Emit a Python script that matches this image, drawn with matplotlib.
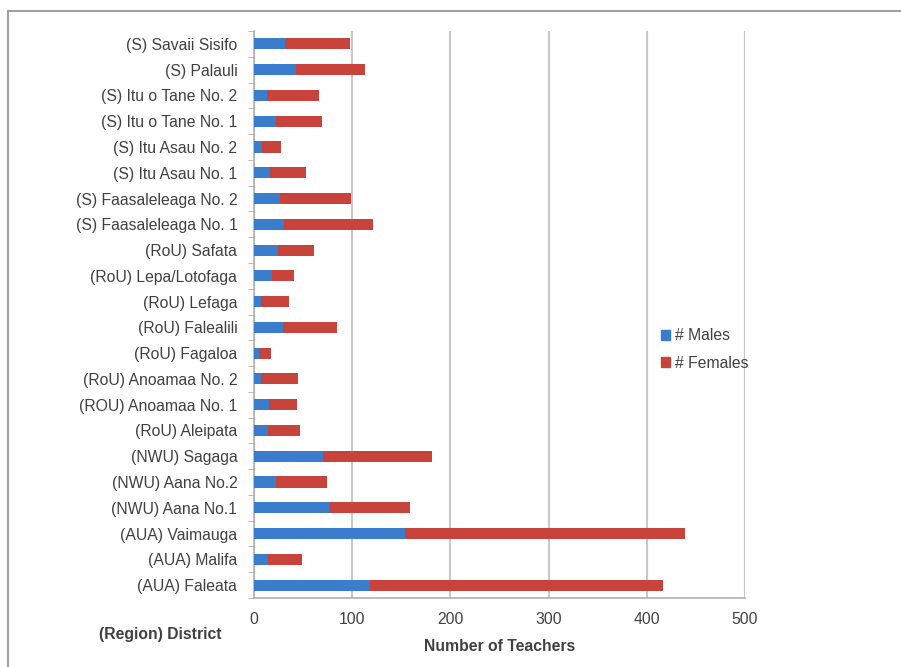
import matplotlib
import numpy as np

matplotlib.use('Agg')
from matplotlib import pyplot as plt
from matplotlib.lines import Line2D
from matplotlib.patches import Patch

# bottom to top, as drawn on the chart
districts = [
    '(AUA) Faleata', '(AUA) Malifa', '(AUA) Vaimauga',
    '(NWU) Aana No.1', '(NWU) Aana No.2', '(NWU) Sagaga',
    '(RoU) Aleipata', '(ROU) Anoamaa No. 1', '(RoU) Anoamaa No. 2',
    '(RoU) Fagaloa', '(RoU) Falealili', '(RoU) Lefaga',
    '(RoU) Lepa/Lotofaga', '(RoU) Safata',
    '(S) Faasaleleaga No. 1', '(S) Faasaleleaga No. 2',
    '(S) Itu Asau No. 1', '(S) Itu Asau No. 2',
    '(S) Itu o Tane No. 1', '(S) Itu o Tane No. 2',
    '(S) Palauli', '(S) Savaii Sisifo',
]
males = [118, 14, 154, 76, 22, 70, 14, 15, 7, 5, 30, 7, 18, 24,
         31, 26, 16, 8, 22, 13, 43, 32]
females = [298, 35, 285, 83, 52, 111, 33, 29, 38, 12, 55, 29, 23, 37,
           90, 73, 37, 19, 47, 53, 70, 66]
x_ticks = [0, 100, 200, 300, 400, 500]

blue = '#3B7DCD'
red = '#C8433B'
text_col = '#404040'
grid_col = '#c8c8c8'
fs = 11.3

plt.rcParams['font.family'] = ['Liberation Sans', 'DejaVu Sans']

fig = plt.figure(figsize=(9.01, 6.67), dpi=100)
ax = fig.add_axes([254 / 901, 1 - 598 / 667, 491 / 901, 567 / 667])

# outer frame (only top and left edges visible)
fig.add_artist(Line2D([8 / 901, 1], [1 - 11 / 667, 1 - 11 / 667],
                      transform=fig.transFigure, color='#a0a0a0', lw=1.5))
fig.add_artist(Line2D([8 / 901, 8 / 901], [0, 1 - 11 / 667],
                      transform=fig.transFigure, color='#a0a0a0', lw=1.5))

y = np.arange(len(districts))
ax.barh(y, males, height=0.43, color=blue, label='# Males', zorder=3)
ax.barh(y, females, left=males, height=0.43, color=red,
        label='# Females', zorder=3)

ax.set_xlim(0, 500)
ax.set_ylim(-0.5, len(districts) - 0.5)
ax.set_xticks(x_ticks)
ax.set_yticks(y)
ax.set_yticklabels(districts)
ax.set_yticks(np.arange(-0.5, len(districts), 1), minor=True)
ax.tick_params(axis='y', which='major', length=0, pad=12,
               labelsize=fs, labelcolor=text_col)
ax.tick_params(axis='y', which='minor', length=4, color='#b0b0b0')
ax.tick_params(axis='x', length=0, pad=10, labelsize=fs,
               labelcolor=text_col)

ax.grid(axis='x', color=grid_col, lw=1.5, zorder=0)
for s in ['top', 'right']:
    ax.spines[s].set_visible(False)
for s in ['left', 'bottom']:
    ax.spines[s].set_color('#b0b0b0')
    ax.spines[s].set_linewidth(1.2)

ax.set_xlabel('Number of Teachers', fontsize=fs, fontweight='bold',
              color=text_col, labelpad=9)
fig.text(160 / 901, 1 - 634 / 667, '(Region) District', fontsize=fs,
         fontweight='bold', color=text_col, ha='center', va='center')

handles = [Patch(color=blue, label='# Males'),
           Patch(color=red, label='# Females')]
ax.legend(handles=handles, loc='center left',
          bbox_to_anchor=(0.80, 0.438), frameon=False, fontsize=fs,
          handlelength=0.6, handleheight=0.6, handletextpad=0.3,
          labelspacing=0.8, labelcolor=text_col)

fig.savefig('out.png', dpi=100, facecolor='white')
